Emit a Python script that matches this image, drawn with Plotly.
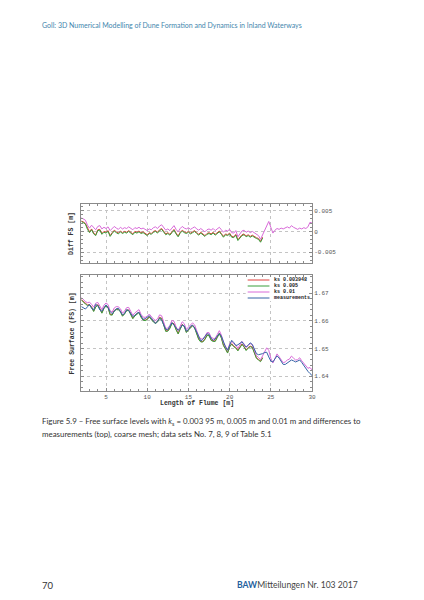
import numpy as np
import plotly.graph_objs as go

# flume positions of the samples [m]
x_start, x_step = 2.0, 0.25

# measured free surface [m], x = 2 ... 30
fs_meas = [
    1.6652, 1.6647, 1.6643, 1.6651, 1.6660, 1.6645, 1.6640, 1.6660, 1.6655, 1.6640,
    1.6635, 1.6647, 1.6658, 1.6648, 1.6634, 1.6626, 1.6635, 1.6644, 1.6646, 1.6634,
    1.6622, 1.6627, 1.6641, 1.6638, 1.6627, 1.6616, 1.6620, 1.6628, 1.6631, 1.6618,
    1.6606, 1.6608, 1.6615, 1.6619, 1.6610, 1.6598, 1.6591, 1.6600, 1.6609, 1.6603,
    1.6586, 1.6570, 1.6568, 1.6582, 1.6594, 1.6585, 1.6574, 1.6566, 1.6574, 1.6585,
    1.6582, 1.6563, 1.6569, 1.6581, 1.6585, 1.6575, 1.6560, 1.6542, 1.6528, 1.6533,
    1.6545, 1.6554, 1.6552, 1.6538, 1.6530, 1.6535, 1.6546, 1.6555, 1.6545, 1.6525,
    1.6506, 1.6494, 1.6512, 1.6530, 1.6522, 1.6511, 1.6514, 1.6521, 1.6525, 1.6514,
    1.6506, 1.6512, 1.6521, 1.6515, 1.6496, 1.6482, 1.6478, 1.6479, 1.6482, 1.6486,
    1.6487, 1.6470, 1.6455, 1.6452, 1.6464, 1.6474, 1.6466, 1.6452, 1.6443, 1.6443,
    1.6448, 1.6454, 1.6459, 1.6456, 1.6452, 1.6455, 1.6459, 1.6450, 1.6438, 1.6428,
    1.6418, 1.6410, 1.6403,
]

# differences simulation - measurement [m]
diff_ks001 = [
    0.0033, 0.0030, 0.0027, 0.0015, 0.0008, 0.0015, 0.0010, 0.0004, 0.0012, 0.0014,
    0.0006, 0.0010, 0.0007, 0.0011, 0.0002, 0.0006, 0.0012, 0.0008, 0.0005, 0.0010,
    0.0006, 0.0009, 0.0007, 0.0011, 0.0008, 0.0004, 0.0009, 0.0007, 0.0010, 0.0006,
    0.0008, 0.0005, 0.0002, 0.0006, 0.0004, 0.0009, 0.0011, 0.0007, 0.0013, 0.0016,
    0.0010, 0.0003, 0.0006, 0.0002, 0.0008, 0.0014, 0.0005, -0.0001, 0.0007, 0.0012,
    0.0008, 0.0006, 0.0009, 0.0005, 0.0008, 0.0011, 0.0006, 0.0003, 0.0007, 0.0002,
    -0.0001, 0.0004, 0.0006, 0.0003, 0.0007, 0.0002, 0.0005, 0.0010, 0.0004, -0.0002,
    0.0003, 0.0001, 0.0005, -0.0003, -0.0004, 0.0002, -0.0013, -0.0006, 0.0001, 0.0003,
    -0.0002, 0.0001, -0.0003, 0.0000, -0.0004, -0.0007, -0.0010, -0.0019, -0.0008, 0.0006,
    0.0016, 0.0024, 0.0010, -0.0004, 0.0003, 0.0007, 0.0005, 0.0008, 0.0006, 0.0009,
    0.0011, 0.0008, 0.0014, 0.0010, 0.0007, 0.0005, 0.0008, 0.0006, 0.0009, 0.0007,
    0.0011, 0.0022, 0.0020,
]

# ks 0.005 and ks 0.003948 only reach x = 24
diff_ks0005 = [
    0.0024, 0.0021, 0.0018, 0.0005, -0.0003, 0.0004, -0.0006, -0.0010, 0.0002, 0.0003,
    -0.0007, -0.0002, -0.0004, 0.0000, -0.0012, -0.0005, 0.0001, -0.0003, -0.0006, -0.0001,
    -0.0005, -0.0002, -0.0004, 0.0000, -0.0003, -0.0008, -0.0002, -0.0004, -0.0001, -0.0005,
    -0.0003, -0.0007, -0.0010, -0.0005, -0.0007, -0.0002, 0.0000, -0.0004, 0.0002, 0.0005,
    -0.0001, -0.0008, -0.0005, -0.0009, -0.0003, 0.0003, -0.0006, -0.0013, -0.0004, 0.0001,
    -0.0003, -0.0005, -0.0002, -0.0006, -0.0003, 0.0000, -0.0005, -0.0009, -0.0004, -0.0009,
    -0.0012, -0.0007, -0.0005, -0.0008, -0.0004, -0.0009, -0.0006, -0.0001, -0.0007, -0.0014,
    -0.0008, -0.0010, -0.0006, -0.0014, -0.0015, -0.0009, -0.0022, -0.0016, -0.0010, -0.0008,
    -0.0013, -0.0010, -0.0014, -0.0011, -0.0015, -0.0017, -0.0019, -0.0026, -0.0016,
]

diff_ks0003948 = [
    0.0025, 0.0023, 0.0019, 0.0007, -0.0001, 0.0006, -0.0004, -0.0008, 0.0004, 0.0005,
    -0.0005, 0.0000, -0.0002, 0.0002, -0.0010, -0.0003, 0.0003, -0.0001, -0.0004, 0.0001,
    -0.0003, 0.0000, -0.0002, 0.0002, -0.0001, -0.0006, 0.0000, -0.0002, 0.0001, -0.0003,
    -0.0001, -0.0005, -0.0008, -0.0003, -0.0005, 0.0000, 0.0002, -0.0002, 0.0004, 0.0007,
    0.0001, -0.0006, -0.0003, -0.0007, -0.0001, 0.0005, -0.0004, -0.0011, -0.0002, 0.0003,
    -0.0001, -0.0003, 0.0000, -0.0004, -0.0001, 0.0002, -0.0003, -0.0007, -0.0002, -0.0007,
    -0.0010, -0.0005, -0.0003, -0.0006, -0.0002, -0.0007, -0.0004, 0.0001, -0.0005, -0.0012,
    -0.0006, -0.0008, -0.0004, -0.0012, -0.0013, -0.0007, -0.0020, -0.0014, -0.0008, -0.0006,
    -0.0011, -0.0008, -0.0012, -0.0009, -0.0013, -0.0015, -0.0017, -0.0024, -0.0014,
]

series_names = ['ks 0.003948', 'ks 0.005', 'ks 0.01', 'measurements']
series_colors = ['#e0403c', '#3a9e3a', '#d86ad8', '#3563a6']

x_ticks = [5, 10, 15, 20, 25, 30]
diff_ticks = [-0.005, 0, 0.005]
diff_ticklabels = ['-0.005', '0', '0.005']
fs_ticks = [1.64, 1.65, 1.66, 1.67]

# the page body adds an 8px margin, so the figure is a bit smaller than the window
OFF = 8
W, H = 416, 592
mono = 'Liberation Mono'
sans = 'Lato'


def px(x):
    return (x - OFF) / W


def py(y):
    return 1 - (y - OFF) / H


x_all = x_start + x_step * np.arange(len(fs_meas))
meas = np.array(fs_meas)

fig = go.Figure()

diffs = [diff_ks0003948, diff_ks0005, diff_ks001]
for name, color, d in zip(series_names[:3], series_colors[:3], diffs):
    d = np.array(d)
    xs = x_all[:len(d)]
    # top: difference to measurements
    fig.add_trace(go.Scatter(x=xs, y=d, mode='lines', name=name,
                             line=dict(color=color, width=1),
                             xaxis='x', yaxis='y', showlegend=False))
    # bottom: simulated free surface
    fig.add_trace(go.Scatter(x=xs, y=meas[:len(d)] + d, mode='lines', name=name,
                             line=dict(color=color, width=1),
                             xaxis='x2', yaxis='y2', showlegend=False))

fig.add_trace(go.Scatter(x=x_all, y=meas, mode='lines', name=series_names[3],
                         line=dict(color=series_colors[3], width=1),
                         xaxis='x2', yaxis='y2', showlegend=False))

# plot frames in page pixels
L, R = 82, 315
top_t, top_b = 204, 263
bot_t, bot_b = 275, 391

axis_common = dict(showline=True, linecolor='#8a8a8a', linewidth=1, mirror='allticks',
                   ticks='inside', ticklen=3, tickcolor='#8a8a8a',
                   showgrid=True, gridcolor='#c4c4c4', griddash='dot', gridwidth=1,
                   zeroline=False, tickfont=dict(family=mono, size=6, color='#555'))

fig.update_layout(
    width=W, height=H,
    margin=dict(l=0, r=0, t=0, b=0),
    paper_bgcolor='white', plot_bgcolor='white',
    showlegend=False,
    xaxis=dict(domain=[px(L), px(R)], range=[2, 30], tickvals=x_ticks,
               showticklabels=False, anchor='y',
               minor=dict(dtick=1, ticklen=2, tickcolor='#8a8a8a', ticks='inside'),
               **axis_common),
    yaxis=dict(domain=[py(top_b), py(top_t)], range=[-0.0076, 0.0066],
               tickvals=diff_ticks, ticktext=diff_ticklabels, side='right', anchor='x',
               minor=dict(dtick=0.001, ticklen=2, tickcolor='#8a8a8a', ticks='inside'),
               **axis_common),
    xaxis2=dict(domain=[px(L), px(R)], range=[2, 30], tickvals=x_ticks, anchor='y2',
                minor=dict(dtick=1, ticklen=2, tickcolor='#8a8a8a', ticks='inside'),
                **axis_common),
    yaxis2=dict(domain=[py(bot_b), py(bot_t)], range=[1.6347, 1.6766],
                tickvals=fs_ticks, tickformat='.2f', side='right', anchor='x2',
                minor=dict(dtick=0.002, ticklen=2, tickcolor='#8a8a8a', ticks='inside'),
                **axis_common),
)

title_font = dict(family=mono, size=6.5, color='#333', weight='bold')
anns = [
    dict(text='Diff FS [m]', x=px(72), y=py((top_t + top_b) / 2), textangle=-90),
    dict(text='Free Surface (FS) [m]', x=px(73), y=py((bot_t + bot_b) / 2), textangle=-90),
    dict(text='Length of Flume [m]', x=px((L + R) / 2), y=py(403), textangle=0),
]
for a in anns:
    fig.add_annotation(xref='paper', yref='paper', showarrow=False, font=title_font,
                       xanchor='center', yanchor='middle', **a)

# legend, drawn by hand to get the compact rows of the original
leg_y = [280, 286, 292, 298]
fig.add_shape(type='rect', xref='paper', yref='paper', x0=px(248), x1=px(312),
              y0=py(301), y1=py(277), fillcolor='white', line=dict(width=0), layer='above')
for name, color, yy in zip(series_names, series_colors, leg_y):
    fig.add_shape(type='line', xref='paper', yref='paper',
                  x0=px(250), x1=px(272), y0=py(yy), y1=py(yy),
                  line=dict(color=color, width=1), layer='above')
    fig.add_annotation(text=name, xref='paper', yref='paper', x=px(275), y=py(yy),
                       xanchor='left', yanchor='middle', showarrow=False,
                       font=dict(family=mono, size=5, color='#222', weight='bold'))

# page text
fig.add_annotation(text='Goll: 3D Numerical Modelling of Dune Formation and Dynamics in Inland Waterways',
                   xref='paper', yref='paper', x=px(40), y=py(25), xanchor='left', yanchor='middle',
                   showarrow=False, font=dict(family=sans, size=7, color='#3f86ad'))
fig.add_annotation(text='Figure 5.9 – Free surface levels with <i>k</i><sub>s</sub> = 0.003 95 m, 0.005 m and 0.01 m and differences to',
                   xref='paper', yref='paper', x=px(40), y=py(421), xanchor='left', yanchor='middle',
                   showarrow=False, font=dict(family=sans, size=7.9, color='#333'))
fig.add_annotation(text='measurements (top), coarse mesh; data sets No. 7, 8, 9 of Table 5.1',
                   xref='paper', yref='paper', x=px(40), y=py(434), xanchor='left', yanchor='middle',
                   showarrow=False, font=dict(family=sans, size=7.9, color='#333'))
fig.add_annotation(text='70', xref='paper', yref='paper', x=px(40), y=py(585), xanchor='left',
                   yanchor='middle', showarrow=False, font=dict(family=sans, size=9.5, color='#333'))
fig.add_annotation(text='<b><span style="color:#1f5f9e">BAW</span></b>Mitteilungen Nr. 103 2017',
                   xref='paper', yref='paper', x=px(363), y=py(585), xanchor='right', yanchor='middle',
                   showarrow=False, font=dict(family=sans, size=8.6, color='#444'))

fig.write_html("out.html")
